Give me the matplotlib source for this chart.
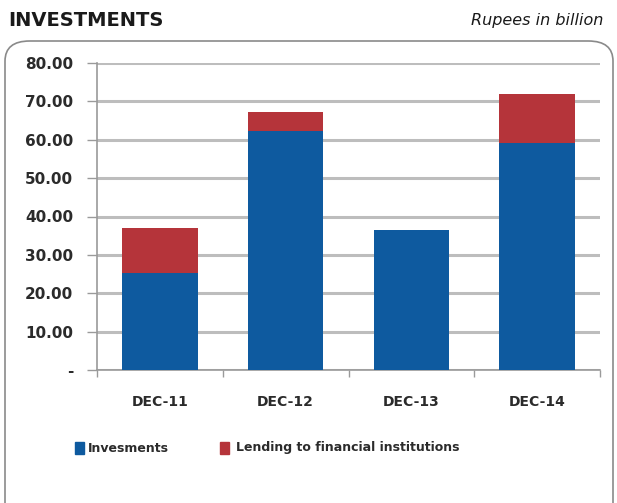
import matplotlib
matplotlib.use("Agg")
import matplotlib.pyplot as plt
from matplotlib.patches import FancyBboxPatch, Rectangle
import numpy as np

categories = ["DEC-11", "DEC-12", "DEC-13", "DEC-14"]
investments = [25.3, 62.2, 36.5, 59.2]
lending = [11.6, 5.1, 0.0, 12.8]
ytick_values = [0, 10, 20, 30, 40, 50, 60, 70, 80]
ytick_labels = ["-", "10.00", "20.00", "30.00", "40.00", "50.00", "60.00", "70.00", "80.00"]
series_names = ["Invesments", "Lending to financial institutions"]

blue = "#0e5a9f"
red = "#b5343a"
text_col = "#2b2b2b"
font = "DejaVu Sans"

W, H = 617, 503
fig = plt.figure(figsize=(W / 100, H / 100), dpi=100)
fig.patch.set_facecolor("white")

# Rounded panel frame
frame = FancyBboxPatch((5 / W, -0.05), (608 / W), (1 - 41 / H) + 0.05,
                       boxstyle="round,pad=0,rounding_size=0.04",
                       transform=fig.transFigure, facecolor="none",
                       edgecolor="#8a8a8a", linewidth=1.2, zorder=-1)
fig.patches.append(frame)

fig.text(8 / W, 1 - 20 / H, "INVESTMENTS", fontsize=14, fontweight="heavy",
         family=font, color="#1a1a1a", va="center", ha="left")
fig.text(603 / W, 1 - 20 / H, "Rupees in billion", fontsize=11.5, style="italic",
         family=font, color="#1a1a1a", va="center", ha="right")

ax = fig.add_axes([97 / W, 1 - 370 / H, (600 - 97) / W, (370 - 63) / H])
ax.set_facecolor("none")
x = np.arange(len(categories))
ax.bar(x, investments, width=0.6, color=blue, zorder=3)
ax.bar(x, lending, width=0.6, bottom=investments, color=red, zorder=3)

ax.set_xlim(-0.5, len(categories) - 0.5)
ax.set_ylim(0, 80)
ax.set_yticks(ytick_values)
ax.set_yticklabels(ytick_labels, fontsize=11, fontweight="bold", family=font, color=text_col)
ax.yaxis.grid(True, color="#bdbdbd", linewidth=2.2, zorder=0)
ax.set_axisbelow(True)

# Category boundary ticks on x axis
ax.set_xticks(np.arange(-0.5, len(categories), 1.0))
ax.set_xticklabels([])
ax.set_xticks(x, minor=True)
ax.set_xticklabels(categories, minor=True, fontsize=10, fontweight="bold",
                   family=font, color=text_col)
ax.tick_params(axis="x", which="major", length=5, color="#9a9a9a", width=1, direction="out")
ax.tick_params(axis="x", which="minor", length=0, pad=18)
ax.tick_params(axis="y", length=7, color="#9a9a9a", width=1, pad=10)

for s in ["top", "right"]:
    ax.spines[s].set_visible(False)
ax.spines["left"].set_color("#9a9a9a")
ax.spines["bottom"].set_color("#9a9a9a")
ax.spines["left"].set_linewidth(1.2)
ax.spines["bottom"].set_linewidth(1.2)

# Legend
ly = 1 - 448 / H
for (sx, tx, col, name) in [(75, 88, blue, series_names[0]), (220, 236, red, series_names[1])]:
    fig.patches.append(Rectangle((sx / W, ly - 6 / H), 9 / W, 12 / H,
                                 transform=fig.transFigure, color=col))
    fig.text(tx / W, ly, name, fontsize=9, fontweight="bold", family=font,
             color=text_col, va="center", ha="left")

fig.savefig("out.png", dpi=100, facecolor="white")
